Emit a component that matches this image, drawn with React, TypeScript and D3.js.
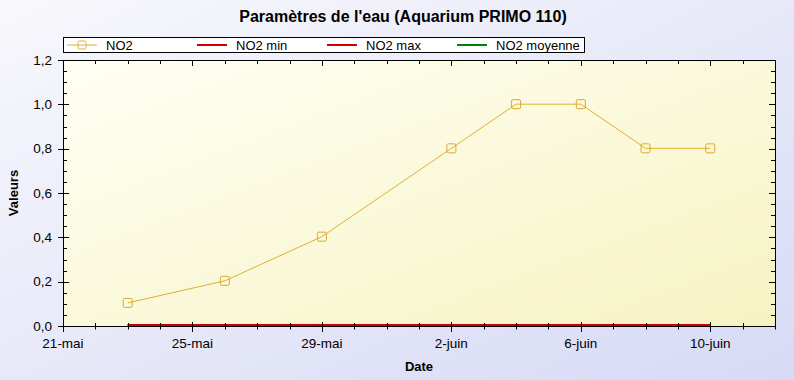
import React from "react";
import * as d3 from "d3";

const dates = ["2010-05-23", "2010-05-26", "2010-05-29", "2010-06-02", "2010-06-04", "2010-06-06", "2010-06-08", "2010-06-10"];
const no2 = [0.1, 0.2, 0.4, 0.8, 1.0, 1.0, 0.8, 0.8];
const no2Min = [0, 0, 0, 0, 0, 0, 0, 0];
const no2Max = [0, 0, 0, 0, 0, 0, 0, 0];
const no2Moy = [0, 0, 0, 0, 0, 0, 0, 0];

const xDomain = ["2010-05-21", "2010-06-12"];
const xTickDates = ["2010-05-21", "2010-05-25", "2010-05-29", "2010-06-02", "2010-06-06", "2010-06-10"];
const xTickLabels = ["21-mai", "25-mai", "29-mai", "2-juin", "6-juin", "10-juin"];
const yTicks = [0, 0.2, 0.4, 0.6, 0.8, 1.0, 1.2];
const yTickLabels = ["0,0", "0,2", "0,4", "0,6", "0,8", "1,0", "1,2"];

const legendLabels = ["NO2", "NO2 min", "NO2 max", "NO2 moyenne"];
const legendColors = ["#e0b030", "#cc0000", "#cc0000", "#008000"];

const title = "Paramètres de l'eau (Aquarium PRIMO 110)";
const FONT = "'Liberation Sans', Arial, sans-serif";

const W = 794, H = 380;
const L = 63, R = 775, T = 60, B = 326;

export default function App() {
  const parse = (s: string) => new Date(s + "T00:00:00Z");
  const x = d3.scaleUtc().domain(xDomain.map(parse)).range([L, R]);
  const y = d3.scaleLinear().domain([0, 1.2]).range([B - 1, T]);
  const yAxis = d3.scaleLinear().domain([0, 1.2]).range([B, T]);

  const minorX = d3.utcDay.range(parse(xDomain[0]), d3.utcDay.offset(parse(xDomain[1]), 1));
  const minorY = d3.range(0, 1.2001, 0.05);

  const pts = dates.map((d, i) => ({ d: parse(d), v: no2[i] }));
  const line = d3.line<{ d: Date; v: number }>().x(p => x(p.d)).y(p => y(p.v));
  const mk = (arr: number[]) => line(dates.map((d, i) => ({ d: parse(d), v: arr[i] })))!;

  const majorSet = new Set(xTickDates);

  return (
    <svg width={W} height={H} style={{ position: "absolute", left: 0, top: 0, display: "block" }} fontFamily={FONT}>
      <defs>
        <linearGradient id="bg" x1="0" y1="0" x2="1" y2="1">
          <stop offset="0" stopColor="#f8f8fc" />
          <stop offset="1" stopColor="#d6daf5" />
        </linearGradient>
        <linearGradient id="plotbg" x1="0" y1="0" x2="1" y2="1">
          <stop offset="0" stopColor="#fffff4" />
          <stop offset="1" stopColor="#f6f3c2" />
        </linearGradient>
      </defs>
      <rect x={0} y={0} width={W} height={H} fill="url(#bg)" />
      <text x={403} y={22} textAnchor="middle" fontSize={16} fontWeight="bold" fill="#000">{title}</text>

      {/* legend */}
      <rect x={63.5} y={37.5} width={521} height={15} fill="#fff" stroke="#000" strokeWidth={1} />
      {legendLabels.map((lab, i) => {
        const lx = 67 + 130 * i;
        return (
          <g key={lab}>
            <line x1={lx} x2={lx + 30} y1={45} y2={45} stroke={legendColors[i]} strokeWidth={i === 0 ? 1 : 2} />
            {i === 0 && <rect x={lx + 11} y={41} width={8} height={8} rx={1.5} fill="none" stroke={legendColors[0]} strokeWidth={1} />}
            <text x={lx + 39} y={49.5} fontSize={13} fill="#000">{lab}</text>
          </g>
        );
      })}

      {/* plot */}
      <rect x={L} y={T} width={R - L} height={B - T} fill="url(#plotbg)" />

      {/* axes frame */}
      <rect x={L + 0.5} y={T + 0.5} width={R - L} height={B - T} fill="none" stroke="#000" strokeWidth={1} />

      {/* series */}
      <path d={mk(no2Moy)} fill="none" stroke="#008000" strokeWidth={2} />
      <path d={mk(no2Max)} fill="none" stroke="#cc0000" strokeWidth={2} />
      <path d={mk(no2Min)} fill="none" stroke="#cc0000" strokeWidth={2} />
      <path d={line(pts)!} fill="none" stroke="#e0b030" strokeWidth={1} />
      {pts.map((p, i) => (
        <rect key={i} x={x(p.d) - 4.5} y={y(p.v) - 4.5} width={9} height={9} rx={1.5} fill="none" stroke="#d8aa30" strokeWidth={1} />
      ))}

      {/* x ticks */}
      {minorX.map((d, i) => {
        const key = d.toISOString().slice(0, 10);
        const major = majorSet.has(key);
        const xx = Math.round(x(d)) + 0.5;
        return (
          <g key={i}>
            <line x1={xx} x2={xx} y1={major ? B - 4 : B - 3} y2={major ? B + 6 : B + 3.5} stroke="#000" />
            <line x1={xx} x2={xx} y1={T} y2={major ? T + 6 : T + 4} stroke="#000" />
          </g>
        );
      })}
      {xTickDates.map((d, i) => (
        <text key={d} x={x(parse(d))} y={348} textAnchor="middle" fontSize={13.5} fill="#000">{xTickLabels[i]}</text>
      ))}

      {/* y ticks */}
      {minorY.map((v, i) => {
        const major = i % 4 === 0;
        const yy = Math.round(yAxis(v)) + 0.5;
        return (
          <g key={i}>
            <line x1={major ? L - 5 : L} x2={major ? L + 6 : L + 4} y1={yy} y2={yy} stroke="#000" />
            <line x1={R - (major ? 6 : 4)} x2={R} y1={yy} y2={yy} stroke="#000" />
          </g>
        );
      })}
      {yTicks.map((v, i) => (
        <text key={i} x={52} y={yAxis(v) + 4.5} textAnchor="end" fontSize={13.5} fill="#000">{yTickLabels[i]}</text>
      ))}

      {/* axis titles */}
      <text x={419} y={371} textAnchor="middle" fontSize={13} fontWeight="bold" fill="#000">Date</text>
      <text transform={`translate(18,${(T + B) / 2}) rotate(-90)`} textAnchor="middle" fontSize={13} fontWeight="bold" fill="#000">Valeurs</text>
    </svg>
  );
}
